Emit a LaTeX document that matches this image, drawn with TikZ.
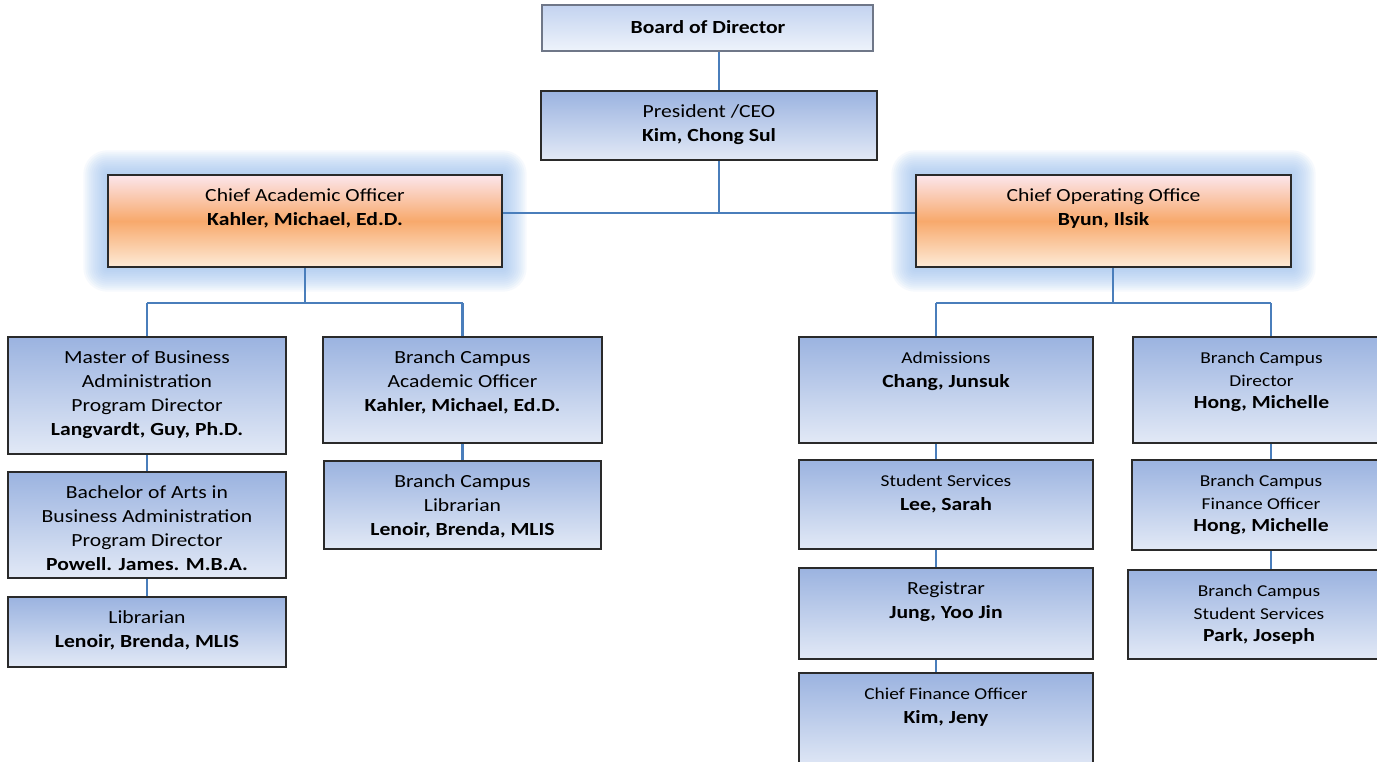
\documentclass[tikz,border=0pt]{standalone}
\usepackage{fontspec}
\setmainfont{Carlito}[FakeStretch=1.17]
\pgfdeclarelayer{bg}
\pgfsetlayers{bg,main}
\definecolor{bluetop}{HTML}{9BB3E0}
\definecolor{bluebot}{HTML}{E2E9F6}
\definecolor{boardtop}{HTML}{C3D3F0}
\definecolor{boardbot}{HTML}{EEF3FB}
\definecolor{ortop}{HTML}{FCE6EC}
\definecolor{ormid}{HTML}{F8A96C}
\definecolor{orbot}{HTML}{FDEBD8}
\definecolor{linec}{HTML}{4A7EBB}
\definecolor{glowc}{HTML}{9CC2F0}
\definecolor{edgec}{HTML}{2A2A2A}
\definecolor{boardedge}{HTML}{6F7788}
\newcommand\myTS{\rule{0pt}{14pt}}
\newcommand\smt[1]{{\fontsize{16.6}{22.5}\selectfont #1}}
\tikzset{
  box/.style={draw=edgec, line width=1.4pt, inner sep=0pt, top color=bluetop, bottom color=bluebot},
  obox/.style={draw=edgec, line width=1.4pt, inner sep=0pt, top color=ortop, bottom color=orbot, middle color=ormid},
  bbox/.style={draw=boardedge, line width=1.6pt, inner sep=0pt, top color=boardtop, bottom color=boardbot},
  txt/.style={inner sep=0pt, align=center, anchor=north, font=\fontsize{18.5}{24}\selectfont},
  txtr/.style={inner sep=0pt, align=center, anchor=north, font=\fontsize{18.5}{22.5}\selectfont},
  conn/.style={draw=linec, line width=2.2pt},
}
\begin{document}
\begin{tikzpicture}[x=1pt,y=-1pt]
\useasboundingbox (0,0) rectangle (1377,761);
% boxes
\node[bbox, minimum width=331pt, minimum height=46pt] (board) at (707.5,28) {};
\node[inner sep=0pt, font=\fontsize{18.5}{24}\selectfont\bfseries] (boardT) at (708,27) {Board of Director};
\node[box, minimum width=336pt, minimum height=69pt] (pres) at (709,125.5) {};
\node[txt] (presT) at ([yshift=-13pt]pres.north) {\myTS President /CEO\\\textbf{Kim, Chong Sul}};
\node[obox, minimum width=394pt, minimum height=92pt] (cao) at (305,221) {};
\node[txt] (caoT) at ([yshift=-13pt]cao.north) {\myTS Chief Academic Officer\\\textbf{Kahler, Michael, Ed.D.}};
\node[obox, minimum width=375pt, minimum height=92pt] (coo) at (1103.5,221) {};
\node[txt] (cooT) at ([yshift=-13pt]coo.north) {\myTS Chief Operating Office\\\textbf{Byun, Ilsik}};
% left branch
\node[box, minimum width=278pt, minimum height=117pt] (mba) at (147,395.5) {};
\node[txt] (mbaT) at ([yshift=-13pt]mba.north) {\myTS Master of Business\\Administration\\Program Director\\\textbf{Langvardt, Guy, Ph.D.}};
\node[box, minimum width=278pt, minimum height=106pt] (ba) at (147,525) {};
\node[txt] (baT) at ([yshift=-13pt]ba.north) {\myTS Bachelor of Arts in\\Business Administration\\Program Director\\\textbf{Powell. James. M.B.A.}};
\node[box, minimum width=278pt, minimum height=70pt] (lib) at (147,632) {};
\node[txt] (libT) at ([yshift=-13pt]lib.north) {\myTS Librarian\\\textbf{Lenoir, Brenda, MLIS}};
\node[box, minimum width=279pt, minimum height=106pt] (bcao) at (462.5,390) {};
\node[txt] (bcaoT) at ([yshift=-13pt]bcao.north) {\myTS Branch Campus\\Academic Officer\\\textbf{Kahler, Michael, Ed.D.}};
\node[box, minimum width=277pt, minimum height=88pt] (bclib) at (462.5,505) {};
\node[txt] (bclibT) at ([yshift=-13pt]bclib.north) {\myTS Branch Campus\\Librarian\\\textbf{Lenoir, Brenda, MLIS}};
% right branch
\node[box, minimum width=294pt, minimum height=106pt] (adm) at (946,390) {};
\node[txt] (admT) at ([yshift=-13pt]adm.north) {\myTS\smt{Admissions}\\\textbf{Chang, Junsuk}};
\node[box, minimum width=294pt, minimum height=89pt] (ss) at (946,504.5) {};
\node[txt] (ssT) at ([yshift=-13pt]ss.north) {\myTS\smt{Student Services}\\\textbf{Lee, Sarah}};
\node[box, minimum width=294pt, minimum height=91pt] (reg) at (946,613.5) {};
\node[txt] (regT) at ([yshift=-13pt]reg.north) {\myTS Registrar\\\textbf{Jung, Yoo Jin}};
\node[box, minimum width=294pt, minimum height=97pt] (cfo) at (946,721.5) {};
\node[txt] (cfoT) at ([yshift=-13pt]cfo.north) {\myTS\smt{Chief Finance Officer}\\\textbf{Kim, Jeny}};
\node[box, minimum width=257pt, minimum height=106pt] (bcd) at (1261.5,390) {};
\node[txtr] (bcdT) at ([yshift=-13pt]bcd.north) {\myTS\smt{Branch Campus}\\\smt{Director}\\\textbf{Hong, Michelle}};
\node[box, minimum width=258pt, minimum height=90pt] (bcf) at (1261,505) {};
\node[txtr] (bcfT) at ([yshift=-13pt]bcf.north) {\myTS\smt{Branch Campus}\\\smt{Finance Officer}\\\textbf{Hong, Michelle}};
\node[box, minimum width=262pt, minimum height=89pt] (bcs) at (1259,614.5) {};
\node[txtr] (bcsT) at ([yshift=-13pt]bcs.north) {\myTS\smt{Branch Campus}\\\smt{Student Services}\\\textbf{Park, Joseph}};
% helper coordinates
\coordinate (tk) at (719,0);
\coordinate (hy) at (0,213);
\coordinate (cy) at (0,303);
\coordinate (rt) at (1113,0);
\coordinate (ra) at (936,0);
\coordinate (rb) at (1271,0);
\begin{pgfonlayer}{bg}
  \fill[white] (0,0) rectangle (1377,761);
  \foreach \r in {24,22,...,2}{
    \fill[glowc, opacity=0.09, rounded corners=\r pt] ([shift={(-\r pt,-\r pt)}]cao.south west) rectangle ([shift={(\r pt,\r pt)}]cao.north east);
    \fill[glowc, opacity=0.09, rounded corners=\r pt] ([shift={(-\r pt,-\r pt)}]coo.south west) rectangle ([shift={(\r pt,\r pt)}]coo.north east);
  }
  \draw[conn] (board.south -| tk) -- (pres.north -| tk);
  \draw[conn] (pres.south -| tk) -- (tk |- hy);
  \draw[conn] (cao.east |- hy) -- (coo.west |- hy);
  \draw[conn] (cao.south) -- (cao.south |- cy);
  \draw[conn] (mba.north |- cy) -- (bcao.north |- cy);
  \draw[conn] (mba.north |- cy) -- (mba.north);
  \draw[conn] (bcao.north |- cy) -- (bcao.north);
  \draw[conn] (mba.south) -- (ba.north);
  \draw[conn] (ba.south) -- (lib.north);
  \draw[conn] (bcao.south) -- (bclib.north);
  \draw[conn] (coo.south -| rt) -- (rt |- cy);
  \draw[conn] (ra |- cy) -- (rb |- cy);
  \draw[conn] (ra |- cy) -- (adm.north -| ra);
  \draw[conn] (rb |- cy) -- (bcd.north -| rb);
  \draw[conn] (adm.south -| ra) -- (ss.north -| ra);
  \draw[conn] (ss.south -| ra) -- (reg.north -| ra);
  \draw[conn] (reg.south -| ra) -- (cfo.north -| ra);
  \draw[conn] (bcd.south -| rb) -- (bcf.north -| rb);
  \draw[conn] (bcf.south -| rb) -- (bcs.north -| rb);
\end{pgfonlayer}
\end{tikzpicture}
\end{document}
